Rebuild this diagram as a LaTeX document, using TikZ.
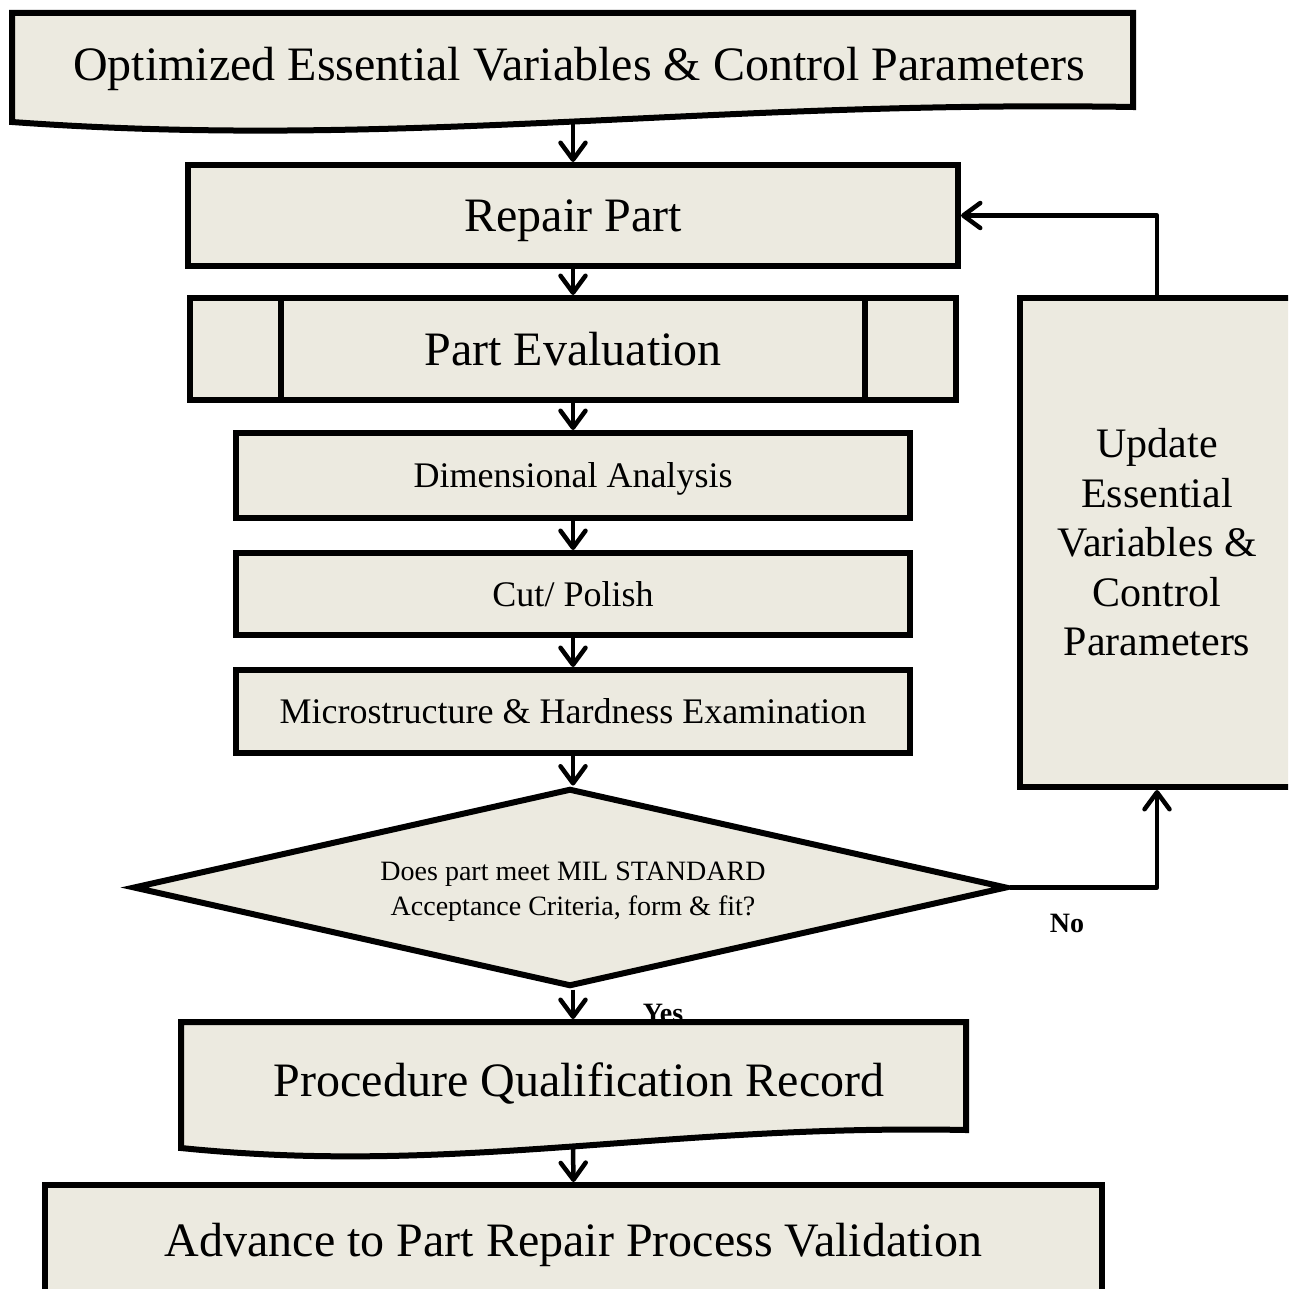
\documentclass[tikz,border=0pt]{standalone}
\usepackage{fontspec}
\setmainfont{Liberation Serif}
\usetikzlibrary{arrows.meta,shapes.geometric}
\definecolor{boxfill}{RGB}{236,234,224}
\begin{document}
\begin{tikzpicture}[x=1pt,y=-1pt,
  box/.style={draw, line width=6pt, fill=boxfill, inner sep=0pt, align=center, rectangle},
  docshape/.style={draw, line width=6pt, fill=boxfill},
  big/.style={font=\fontsize{48}{56}\selectfont, text height=32pt, text depth=0pt},
  mid/.style={font=\fontsize{36}{42}\selectfont, text height=24pt, text depth=0pt},
  small/.style={font=\fontsize{28}{35}\selectfont},
  upd/.style={font=\fontsize{42}{49.5}\selectfont},
  lbl/.style={font=\bfseries\fontsize{28}{32}\selectfont},
  arr/.style={line width=4.5pt, line join=round, -{Straight Barb[length=17pt,width=25pt,line cap=round,line join=round]}},
]
\useasboundingbox (0,0) rectangle (1288,1289);
\clip (0,0) rectangle (1288,1289);

% top document shape
\draw[docshape] (12,13) -- (1133,13) -- (1133,107) .. controls (700,100) and (400,150) .. (12,122) -- cycle;
\node[big, inner sep=0pt] (opt) at (579,65) {Optimized Essential Variables \& Control Parameters};
\coordinate (optb) at (573,123);

% boxes
\node[box, big, minimum width=770pt, minimum height=101pt] (rep) at (573,215.5) {Repair Part};
\node[box, big, minimum width=766pt, minimum height=102pt] (peval) at (573,349) {Part Evaluation};
\draw[line width=6pt] ([xshift=94pt]peval.north west) -- ([xshift=94pt]peval.south west);
\draw[line width=6pt] ([xshift=-94pt]peval.north east) -- ([xshift=-94pt]peval.south east);
\node[box, mid, minimum width=674pt, minimum height=85pt] (dim) at (573,475.5) {Dimensional Analysis};
\node[box, mid, minimum width=674pt, minimum height=82pt] (cut) at (573,594) {Cut/ Polish};
\node[box, mid, minimum width=674pt, minimum height=83pt] (micro) at (573,711.5) {Microstructure \& Hardness Examination};

% decision
\node[draw, line width=6pt, fill=boxfill, diamond, aspect=4.4, minimum width=874pt, minimum height=198pt, inner sep=0pt] (dia) at (570,887.5) {};
\node[small, align=center, inner sep=0pt] (diatext) at (573,892) {Does part meet MIL STANDARD\\Acceptance Criteria, form \& fit?};

% update box
\node[box, upd, minimum width=274pt, minimum height=489pt] (update) at (1157,542.5) {Update\\Essential\\Variables \&\\Control\\Parameters};

% labels
\node[lbl, anchor=base, inner sep=0pt] (yes) at (663,1022) {Yes};
\node[lbl, anchor=base, inner sep=0pt] (no) at (1067,932) {No};

% PQR document shape
\draw[docshape] (181,1022) -- (966,1022) -- (966,1130) .. controls (660,1124) and (456,1176) .. (181,1148) -- cycle;
\node[big, inner sep=0pt] (pqr) at (579,1080) {Procedure Qualification Record};
\coordinate (pqrt) at (573,1019);
\coordinate (pqrb) at (573,1149);

% final box
\node[box, big, minimum width=1057pt, minimum height=110pt] (adv) at (573.5,1240) {Advance to Part Repair Process Validation};

% connectors
\draw[arr] (optb) -- (rep.north);
\draw[arr] (rep.south) -- (peval.north);
\draw[arr] (peval.south) -- (dim.north);
\draw[arr] (dim.south) -- (cut.north);
\draw[arr] (cut.south) -- (micro.north);
\draw[arr] (micro.south) -- (micro.south |- dia.north);
\draw[arr] (micro.south |- dia.south) -- (pqrt);
\draw[arr] (pqrb) -- (adv.north);
\draw[arr] (dia.east) -- (update.south |- dia.east) -- (update.south);
\draw[arr] (update.north) -- (update.north |- rep.east) -- (rep.east);
\end{tikzpicture}
\end{document}
